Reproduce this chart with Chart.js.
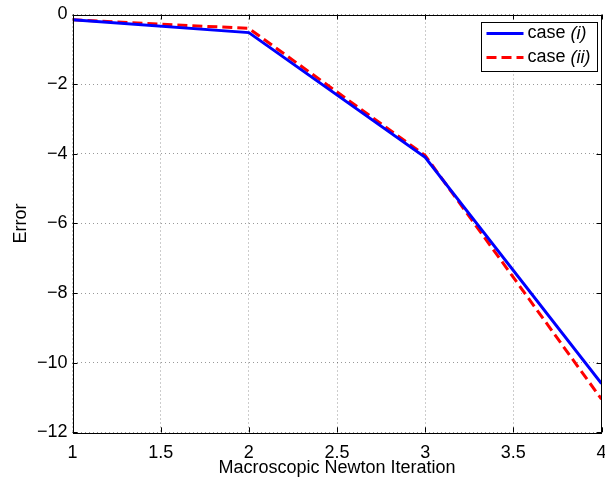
<!DOCTYPE html>
<html>
<head>
<meta charset="utf-8">
<script src="https://cdn.jsdelivr.net/npm/chart.js"></script>
<style>
  html, body { margin: 0; padding: 0; background: #fff; }
  #wrap { width: 605px; height: 479px; }
</style>
</head>
<body>
<div id="wrap"><canvas id="chart" width="605" height="479"></canvas></div>
<script>
// Data
const iterations = [1, 2, 3, 4];
const caseI = [-0.15, -0.52, -4.1, -10.6];
const caseII = [-0.15, -0.4, -4.05, -11.05];
const xTicks = [1, 1.5, 2, 2.5, 3, 3.5, 4];
const yTicks = [-12, -10, -8, -6, -4, -2, 0];

const FONT = '"Liberation Sans", Arial, Helvetica, sans-serif';

function toPoints(xs, ys) {
  return xs.map((x, i) => ({ x: x, y: ys[i] }));
}

// MATLAB-style box, inward ticks and legend
const matlabAxes = {
  id: 'matlabAxes',
  afterDatasetsDraw(chart) {
    const { ctx, chartArea } = chart;
    const xs = chart.scales.x, ys = chart.scales.y;
    const L = chartArea.left, R = chartArea.right, T = chartArea.top, B = chartArea.bottom;
    ctx.save();
    ctx.setLineDash([]);
    ctx.strokeStyle = '#000';
    ctx.lineWidth = 1;
    ctx.strokeRect(Math.round(L) + 0.5, Math.round(T) + 0.5, Math.round(R - L) - 1, Math.round(B - T));
    const len = 5;
    ctx.beginPath();
    xTicks.forEach(v => {
      const px = Math.round(xs.getPixelForValue(v)) + 0.5;
      ctx.moveTo(px, B); ctx.lineTo(px, B - len);
      ctx.moveTo(px, T); ctx.lineTo(px, T + len);
    });
    yTicks.forEach(v => {
      const py = Math.round(ys.getPixelForValue(v)) + 0.5;
      ctx.moveTo(L, py); ctx.lineTo(L + len, py);
      ctx.moveTo(R, py); ctx.lineTo(R - len, py);
    });
    ctx.stroke();
    ctx.restore();
  },
  afterDraw(chart) {
    const { ctx, chartArea } = chart;
    const right = chartArea.right - 5;
    const top = chartArea.top + 7;
    const w = 116, h = 49;
    const left = right - w;
    ctx.save();
    ctx.fillStyle = '#fff';
    ctx.fillRect(left, top, w, h);
    ctx.strokeStyle = '#000';
    ctx.lineWidth = 1;
    ctx.setLineDash([]);
    ctx.strokeRect(Math.round(left) + 0.5, Math.round(top) + 0.5, w, h);

    const entries = [
      { label: '(i)', color: '#0000ff', dash: [], y: top + 12 },
      { label: '(ii)', color: '#ff0000', dash: [10, 5], y: top + 36 }
    ];
    entries.forEach(e => {
      ctx.beginPath();
      ctx.setLineDash(e.dash);
      ctx.strokeStyle = e.color;
      ctx.lineWidth = 3;
      ctx.moveTo(left + 6, e.y);
      ctx.lineTo(left + 43, e.y);
      ctx.stroke();
      ctx.setLineDash([]);
      ctx.fillStyle = '#000';
      ctx.textBaseline = 'middle';
      ctx.textAlign = 'left';
      ctx.font = '18px ' + FONT;
      const tx = left + 47;
      ctx.fillText('case ', tx, e.y);
      const cw = ctx.measureText('case ').width;
      ctx.font = 'italic 18px ' + FONT;
      ctx.fillText(e.label, tx + cw, e.y);
    });
    ctx.restore();
  }
};

new Chart(document.getElementById('chart'), {
  type: 'line',
  data: {
    datasets: [
      {
        label: 'case (i)',
        data: toPoints(iterations, caseI),
        borderColor: '#0000ff',
        borderWidth: 3,
        pointRadius: 0,
        tension: 0,
        fill: false
      },
      {
        label: 'case (ii)',
        data: toPoints(iterations, caseII),
        borderColor: '#ff0000',
        borderWidth: 3,
        borderDash: [10, 5],
        pointRadius: 0,
        tension: 0,
        fill: false
      }
    ]
  },
  options: {
    responsive: false,
    animation: false,
    layout: { padding: { top: 14.5, right: 3.5, left: 0, bottom: 0 } },
    plugins: {
      legend: { display: false },
      tooltip: { enabled: false }
    },
    scales: {
      x: {
        type: 'linear',
        min: 1,
        max: 4,
        afterBuildTicks: scale => { scale.ticks = xTicks.map(v => ({ value: v })); },
        afterFit: scale => { scale.height = 46.7; scale.paddingLeft = 0; scale.paddingRight = 0; },
        grid: {
          color: 'rgba(0,0,0,0.4)',
          lineWidth: 1,
          drawTicks: false
        },
        border: { display: false, dash: [1, 3] },
        ticks: {
          color: '#000',
          padding: 10,
          maxRotation: 0,
          autoSkip: false,
          font: { family: FONT, size: 18 },
          callback: v => String(v)
        },
        title: {
          display: true,
          text: 'Macroscopic Newton Iteration',
          color: '#000',
          font: { family: FONT, size: 18 },
          padding: { top: 0, bottom: 0 }
        }
      },
      y: {
        type: 'linear',
        min: -12,
        max: 0,
        afterBuildTicks: scale => { scale.ticks = yTicks.map(v => ({ value: v })); },
        afterFit: scale => { scale.width = 72.5; scale.paddingTop = 0; scale.paddingBottom = 0; },
        grid: {
          color: 'rgba(0,0,0,0.4)',
          lineWidth: 1,
          drawTicks: false
        },
        border: { display: false, dash: [1, 3] },
        ticks: {
          color: '#000',
          padding: 5,
          autoSkip: false,
          font: { family: FONT, size: 18 },
          callback: v => (v === 0 ? '0' : '\u2212' + Math.abs(v))
        },
        title: {
          display: true,
          text: 'Error',
          color: '#000',
          font: { family: FONT, size: 18 },
          padding: { top: 10, bottom: 0 }
        }
      }
    }
  },
  plugins: [matlabAxes]
});
</script>
</body>
</html>
